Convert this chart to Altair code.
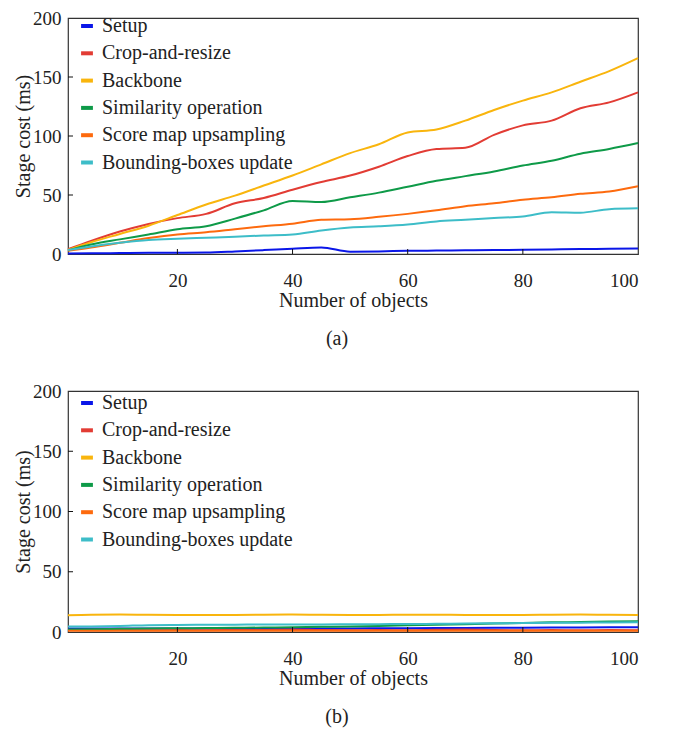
import altair as alt
import pandas as pd

# ---------------- data ----------------
x_vals = [1, 5, 10, 15, 20, 25, 30, 35, 40, 45, 50, 55, 60, 65, 70, 75, 80, 85, 90, 95, 100]
stages = ["Setup", "Crop-and-resize", "Backbone", "Similarity operation",
          "Score map upsampling", "Bounding-boxes update"]
colors = ["#0a16e8", "#e23c34", "#f9b50d", "#0e9a48", "#fd6a0e", "#3dbdc8"]

# panel (a)
a_setup = [0.5, 0.6, 0.8, 1.0, 1.1, 1.3, 2.2, 3.3, 4.5, 5.5, 2.0, 2.2, 2.7, 2.9, 3.1, 3.3, 3.6, 3.9, 4.2, 4.4, 4.7]
a_crop = [4, 11, 19, 25.5, 30.4, 34, 43, 47.5, 54.5, 61, 66.5, 74, 83, 89, 90, 101, 109, 113, 123.5, 128.5, 137]
a_backbone = [3.5, 10, 17, 24, 33, 42, 49.5, 58, 66.5, 76, 85.5, 93, 103, 105.5, 113, 122, 130, 137, 146, 155, 166]
a_similarity = [3, 8, 12.4, 16.6, 21, 23.5, 30, 37, 45, 44, 48, 52, 57, 62, 66, 70, 75, 79, 85, 89, 94]
a_score = [2.8, 5.5, 9.5, 13.5, 16.6, 18.5, 21, 23.5, 25.7, 29, 29.5, 31.5, 34, 37, 40.5, 43, 46, 48, 51, 53, 57.5]
a_bbox = [3.3, 6.4, 9.5, 11.9, 13, 13.8, 14.6, 15.7, 16.6, 20, 22.5, 23.5, 25, 27.6, 29, 30.5, 31.8, 35.4, 35, 38, 38.7]

# panel (b)
b_setup = [3, 3, 3, 3, 3, 3, 3, 3, 3, 3, 3, 3.1, 3.2, 3.3, 3.4, 3.5, 3.6, 3.7, 3.8, 3.9, 4]
b_crop = [1.6, 1.5, 1.6, 1.5, 1.6, 1.5, 1.6, 1.7, 2.0, 1.6, 1.5, 1.6, 1.5, 1.8, 2.0, 1.6, 1.5, 1.6, 1.5, 1.6, 1.5]
b_backbone = [14, 14.4, 14.5, 14.3, 14.2, 14.2, 14.2, 14.3, 14.5, 14.3, 14.2, 14.2, 14.3, 14.3, 14.2, 14.2, 14.2, 14.4, 14.5, 14.3, 14.2]
b_similarity = [2, 2.3, 2.6, 2.9, 3.1, 3.3, 3.5, 3.7, 4, 4.3, 4.6, 5, 5.5, 6, 6.5, 7, 7.5, 8, 8.3, 8.7, 9]
b_score = [1, 1, 1, 1, 1, 1, 1, 1, 1, 1, 1, 1, 1, 1, 1, 1, 1, 1, 1, 1, 1]
b_bbox = [4.5, 4.6, 5, 5.7, 5.9, 6, 6.1, 6.2, 6.3, 6.3, 6.4, 6.5, 6.6, 6.8, 7, 7.2, 7.4, 7.6, 7.7, 7.9, 8]

x_ticks = [20, 40, 60, 80, 100]
y_ticks = [0, 50, 100, 150, 200]
captions = ["(a)", "(b)"]

FONT = "Liberation Serif"
W = 570


def make_df(cols):
    rows = []
    for name, vals in zip(stages, cols):
        for x, v in zip(x_vals, vals):
            rows.append({"x": x, "stage": name, "cost": v})
    return pd.DataFrame(rows)


def panel(df, caption, H, legend_y):
    xs = alt.Scale(domain=[1, 100], nice=False, zero=False)
    ys = alt.Scale(domain=[0, 200], nice=False)
    lines = alt.Chart(df).mark_line(strokeWidth=2, interpolate="monotone").encode(
        x=alt.X("x:Q", scale=xs,
                axis=alt.Axis(values=x_ticks, title="Number of objects", grid=False,
                              domain=False, ticks=False, labelPadding=17, titlePadding=0)),
        y=alt.Y("cost:Q", scale=ys,
                axis=alt.Axis(values=y_ticks, title="Stage cost (ms)", grid=False,
                              domain=False, ticks=False, labelPadding=7, titlePadding=-1)),
        color=alt.Color("stage:N", sort=stages,
                        scale=alt.Scale(domain=stages, range=colors),
                        legend=alt.Legend(title=None, orient="none", legendX=9, legendY=legend_y,
                                          symbolType="stroke", symbolSize=140,
                                          symbolStrokeWidth=4, labelFontSize=20,
                                          labelFont=FONT, labelColor="#222", labelLimit=0,
                                          labelOffset=5, rowPadding=7.3, padding=0)),
    )
    xt = alt.Chart(pd.DataFrame({"t": x_ticks[:-1]})).mark_rule(color="#111", strokeWidth=1).encode(
        x=alt.X("t:Q", scale=xs), y=alt.value(H), y2=alt.value(H - 5))
    yt = alt.Chart(pd.DataFrame({"t": y_ticks[1:-1]})).mark_rule(color="#111", strokeWidth=1).encode(
        y=alt.Y("t:Q", scale=ys), x=alt.value(0), x2=alt.value(5))
    return alt.layer(lines, xt, yt).properties(
        width=W, height=H,
        title=alt.TitleParams(caption, orient="bottom", anchor="middle", frame="group",
                              fontSize=20, font=FONT, fontWeight="normal", color="#222",
                              offset=19, dx=-16),
    )


pa = panel(make_df([a_setup, a_crop, a_backbone, a_similarity, a_score, a_bbox]), captions[0], 236, -2)
pb = panel(make_df([b_setup, b_crop, b_backbone, b_similarity, b_score, b_bbox]), captions[1], 241, 2)

chart = alt.vconcat(pa, pb, spacing=31).resolve_scale(color="independent").properties(
    padding={"left": 4, "top": 0, "right": 5, "bottom": 5},
    background="white",
).configure_view(stroke="#333", strokeWidth=1.2).configure_axis(
    labelFont=FONT, titleFont=FONT, labelFontSize=19, titleFontSize=20,
    labelColor="#222", titleColor="#222", titleFontWeight="normal"
)

chart.save("out.html", embed_options={"renderer": "svg", "actions": False})
